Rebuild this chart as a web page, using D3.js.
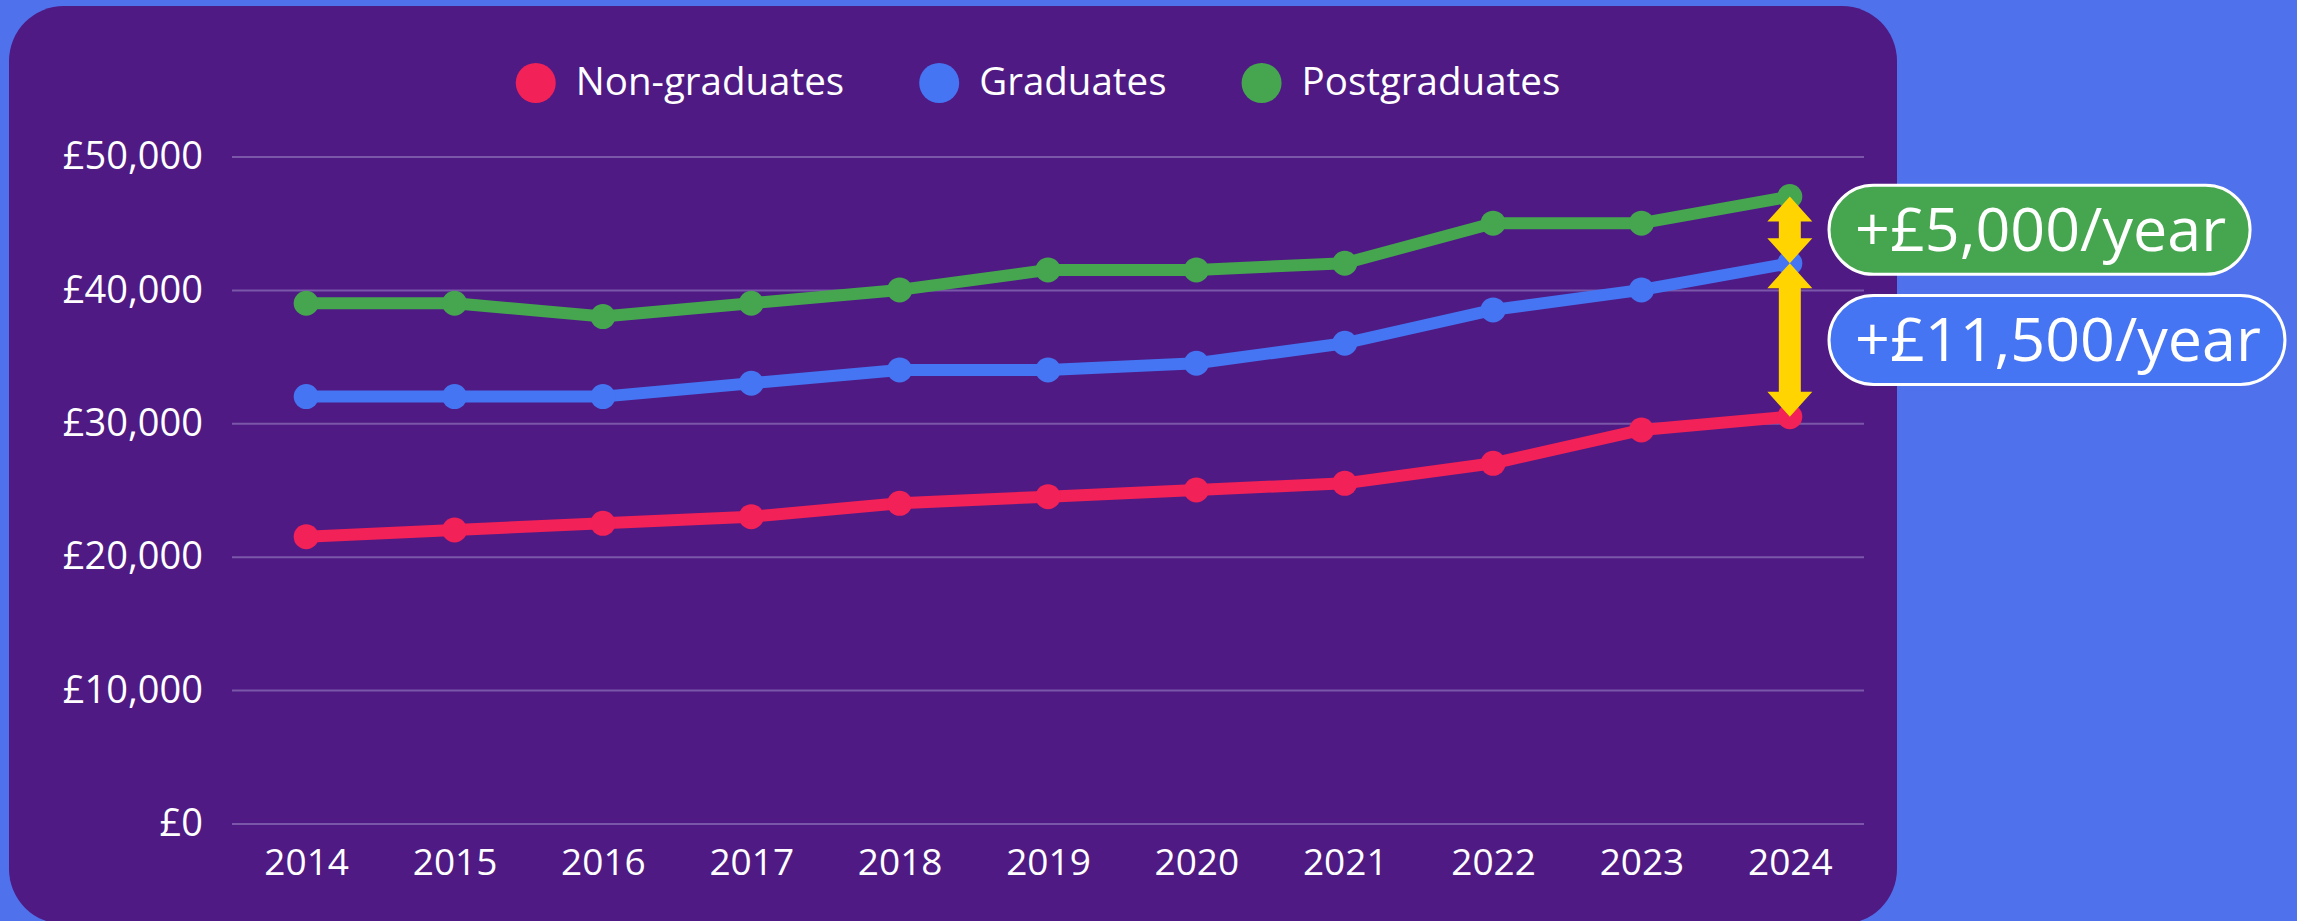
<!DOCTYPE html>
<meta charset="utf-8">
<style>
body { margin: 0; background: #5071ec; }
svg { display: block; font-family: "Open Sans", sans-serif; }
.grid line { stroke: #7a57a9; stroke-width: 2px; }
.grid text, .xaxis text { fill: #fff; }
</style>
<svg width="2297" height="921"></svg>
<script src="https://d3js.org/d3.v7.min.js"></script>
<script>

// data
var years = ["2014","2015","2016","2017","2018","2019","2020","2021","2022","2023","2024"];
var nonGrad  = [21500, 22000, 22500, 23000, 24000, 24500, 25000, 25500, 27000, 29500, 30500];
var grad     = [32000, 32000, 32000, 33000, 34000, 34000, 34500, 36000, 38500, 40000, 42000];
var postGrad = [39000, 39000, 38000, 39000, 40000, 41500, 41500, 42000, 45000, 45000, 47000];
var yTicks = [0, 10000, 20000, 30000, 40000, 50000];
var seriesNames = ["Non-graduates", "Graduates", "Postgraduates"];
var seriesColors = ["#f22157", "#4575f2", "#45a64f"];

var svg = d3.select("svg"),
  width = +svg.attr("width"),
  height = +svg.attr("height");

svg.append("rect").attr("width", width).attr("height", height).attr("fill", "#5071ec");
svg.append("rect")
  .attr("x", 9).attr("y", 6).attr("width", 1888).attr("height", 918)
  .attr("rx", 55).attr("fill", "#4f1a83");

var x = d3.scalePoint().domain(years).range([232, 1864]).padding(0.5);
var y = d3.scaleLinear().domain([0, 50000]).range([823.5, 156.5]);

// y axis + gridlines
var gy = svg.append("g").attr("class", "grid")
  .attr("transform", "translate(232,0)")
  .call(d3.axisLeft(y).tickValues(yTicks).tickSize(-(1864 - 232)).tickPadding(29)
    .tickFormat(function(d){ return "£" + d3.format(",")(d); }));
gy.select(".domain").remove();
gy.selectAll("text").attr("font-size", 38).attr("font-family", "Open Sans");
gy.selectAll(".tick").filter(function(d){ return d === 0; })
  .select("line").attr("stroke", "#b8a4d8").attr("stroke-width", 3);

// x axis labels
var gx = svg.append("g").attr("class", "xaxis")
  .attr("transform", "translate(0," + y(0) + ")")
  .call(d3.axisBottom(x).tickSize(0).tickPadding(25));
gx.select(".domain").remove();
gx.selectAll("text").attr("font-size", 37).attr("font-family", "Open Sans");

// lines and points
var allSeries = [nonGrad, grad, postGrad];
var line = d3.line().x(function(d, i){ return x(years[i]); }).y(function(d){ return y(d); });

allSeries.forEach(function(vals, s){
  var g = svg.append("g");
  g.append("path").datum(vals)
    .attr("d", line)
    .attr("fill", "none")
    .attr("stroke", seriesColors[s])
    .attr("stroke-width", 12)
    .attr("stroke-linejoin", "round");
  g.selectAll("circle").data(vals).enter().append("circle")
    .attr("cx", function(d, i){ return x(years[i]); })
    .attr("cy", function(d){ return y(d); })
    .attr("r", 12.5)
    .attr("fill", seriesColors[s]);
});

// legend
var legend = svg.append("g");
var lx = 0;
seriesNames.forEach(function(name, i){
  var item = legend.append("g").attr("transform", "translate(" + lx + ",0)");
  item.append("circle").attr("cx", 20).attr("cy", 83).attr("r", 20).attr("fill", seriesColors[i]);
  var t = item.append("text").attr("x", 60).attr("y", 95)
    .attr("font-size", 38.5).attr("fill", "#fff").text(name);
  lx += 60 + t.node().getComputedTextLength() + 75;
});
var legW = lx - 75;
legend.attr("transform", "translate(" + (1038 - legW / 2) + ",0)");

// double arrows showing the gaps in 2024
var last = years.length - 1;
var ax = x(years[last]);
function dblArrow(y1, y2) {
  var hw = 22.5, sw = 11, hh = 25;
  var p = d3.path();
  p.moveTo(ax, y1);
  p.lineTo(ax + hw, y1 + hh); p.lineTo(ax + sw, y1 + hh);
  p.lineTo(ax + sw, y2 - hh); p.lineTo(ax + hw, y2 - hh);
  p.lineTo(ax, y2);
  p.lineTo(ax - hw, y2 - hh); p.lineTo(ax - sw, y2 - hh);
  p.lineTo(ax - sw, y1 + hh); p.lineTo(ax - hw, y1 + hh);
  p.closePath();
  svg.append("path").attr("d", p.toString()).attr("fill", "#ffd400");
}
dblArrow(y(postGrad[last]), y(grad[last]));
dblArrow(y(grad[last]), y(nonGrad[last]));

// gap labels
function pill(yc, label, color) {
  var g = svg.append("g");
  var r = g.append("rect");
  var t = g.append("text").attr("x", 1829 + 26).attr("y", yc + 21)
    .attr("font-size", 61).attr("fill", "#fff").text(label);
  var w = t.node().getComputedTextLength() + 50;
  r.attr("x", 1829).attr("y", yc - 44.5).attr("width", w).attr("height", 89)
    .attr("rx", 44.5).attr("fill", color).attr("stroke", "#fff").attr("stroke-width", 3);
}
var gapTop = postGrad[last] - grad[last];
var gapBottom = grad[last] - nonGrad[last];
pill((y(postGrad[last]) + y(grad[last])) / 2, "+£" + d3.format(",")(gapTop) + "/year", seriesColors[2]);
pill((y(grad[last]) + y(nonGrad[last])) / 2, "+£" + d3.format(",")(gapBottom) + "/year", seriesColors[1]);

</script>
